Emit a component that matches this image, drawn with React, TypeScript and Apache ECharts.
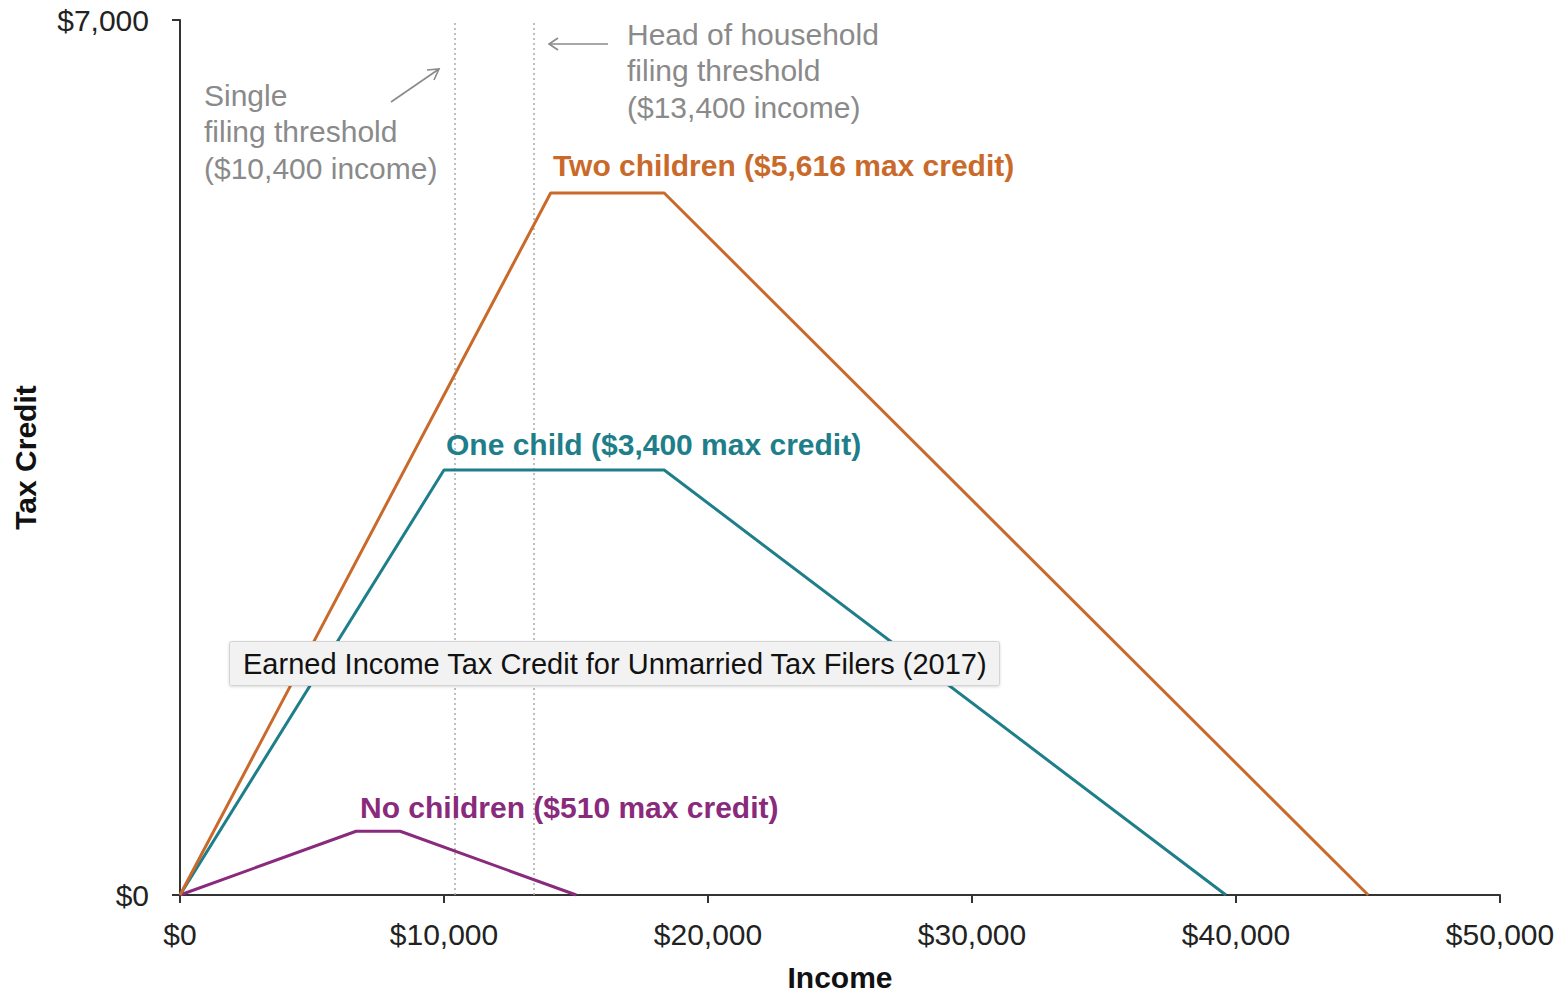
import React, { useEffect, useRef } from "react";
import * as echarts from "echarts";

const twoChildrenIncome = [0, 14040, 18340, 45007];
const twoChildrenCredit = [0, 5616, 5616, 0];
const oneChildIncome = [0, 10000, 18340, 39617];
const oneChildCredit = [0, 3400, 3400, 0];
const noChildrenIncome = [0, 6670, 8340, 15010];
const noChildrenCredit = [0, 510, 510, 0];
const thresholds = [10400, 13400];
const xTicks = [0, 10000, 20000, 30000, 40000, 50000];

const ORANGE = "#C96A2B";
const TEAL = "#1E7E8A";
const PURPLE = "#8A2A7C";
const GRAY = "#8a8a8a";
const FONT = "Liberation Sans, Arial, sans-serif";

const pairs = (xs: number[], ys: number[]) => xs.map((x, i) => [x, ys[i]]);

export default function App() {
  const ref = useRef<HTMLDivElement>(null);
  useEffect(() => {
    const chart = echarts.init(ref.current!, undefined, { renderer: "svg" });
    const lineSeries = (name: string, data: number[][], color: string, extra: any = {}) => ({
      type: "line",
      name,
      data,
      symbol: "none",
      lineStyle: { color, width: 3 },
      itemStyle: { color },
      z: 3,
      ...extra,
    });
    const annoText = (x: number, y: number, text: string, color: string, bold = false) => ({
      type: "text",
      x,
      y,
      style: {
        text,
        fill: color,
        font: `${bold ? "bold " : ""}30px ${FONT}`,
        lineHeight: 36.5,
        textVerticalAlign: "top",
      },
      z: 10,
    });
    chart.setOption({
      animation: false,
      textStyle: { fontFamily: FONT },
      grid: { left: 180, right: 68, top: 20, bottom: 100 },
      title: {
        text: "Earned Income Tax Credit for Unmarried Tax Filers (2017)",
        left: 229,
        top: 641,
        padding: [8, 12, 8, 14],
        backgroundColor: "#f2f2f2",
        borderColor: "#d4d4d4",
        borderWidth: 1,
        borderRadius: 2,
        shadowColor: "rgba(0,0,0,0.15)",
        shadowBlur: 3,
        shadowOffsetY: 1,
        textStyle: { fontSize: 29, fontWeight: "normal", color: "#111", fontFamily: FONT },
      },
      xAxis: {
        type: "value",
        min: 0,
        max: 50000,
        interval: 10000,
        name: "Income",
        nameLocation: "middle",
        nameGap: 67,
        nameTextStyle: { fontSize: 30, fontWeight: "bold", color: "#111", fontFamily: FONT },
        axisLine: { show: true, lineStyle: { color: "#333", width: 2 } },
        axisTick: { show: true, length: 8, lineStyle: { color: "#333", width: 2 } },
        axisLabel: {
          fontSize: 30,
          color: "#222",
          margin: 24,
          formatter: (v: number) => (xTicks.includes(v) ? "$" + v.toLocaleString("en-US") : ""),
        },
        splitLine: { show: false },
      },
      yAxis: {
        type: "value",
        min: 0,
        max: 7000,
        interval: 7000,
        name: "Tax Credit",
        nameLocation: "middle",
        nameGap: 140,
        nameTextStyle: { fontSize: 30, fontWeight: "bold", color: "#111", fontFamily: FONT },
        axisLine: { show: true, lineStyle: { color: "#333", width: 2 } },
        axisTick: { show: true, length: 8, lineStyle: { color: "#333", width: 2 } },
        axisLabel: {
          fontSize: 30,
          color: "#222",
          margin: 31,
          formatter: (v: number) => "$" + v.toLocaleString("en-US"),
        },
        splitLine: { show: false },
      },
      series: [
        lineSeries("No children", pairs(noChildrenIncome, noChildrenCredit), PURPLE, {
          markLine: {
            silent: true,
            symbol: "none",
            label: { show: false },
            lineStyle: { color: "#aaa", type: [2, 3], width: 1.5 },
            data: thresholds.map((t) => ({ xAxis: t })),
            z: 1,
          },
        }),
        lineSeries("One child", pairs(oneChildIncome, oneChildCredit), TEAL),
        lineSeries("Two children", pairs(twoChildrenIncome, twoChildrenCredit), ORANGE),
      ],
      graphic: [
        annoText(204, 77, "Single\nfiling threshold\n($10,400 income)", GRAY),
        annoText(627, 16, "Head of household\nfiling threshold\n($13,400 income)", GRAY),
        annoText(553, 147, "Two children ($5,616 max credit)", ORANGE, true),
        annoText(446, 426, "One child ($3,400 max credit)", TEAL, true),
        annoText(360, 789, "No children ($510 max credit)", PURPLE, true),
        {
          type: "line",
          shape: { x1: 391, y1: 102, x2: 439, y2: 69 },
          style: { stroke: GRAY, lineWidth: 1.6 },
        },
        {
          type: "polyline",
          shape: { points: [[427, 70], [439, 69], [434, 80]] },
          style: { stroke: GRAY, lineWidth: 1.6, fill: "none" },
        },
        {
          type: "line",
          shape: { x1: 608, y1: 44, x2: 549, y2: 44 },
          style: { stroke: GRAY, lineWidth: 1.6 },
        },
        {
          type: "polyline",
          shape: { points: [[558, 38], [549, 44], [558, 50]] },
          style: { stroke: GRAY, lineWidth: 1.6, fill: "none" },
        },
      ],
    });
    return () => chart.dispose();
  }, []);
  return (
    <div
      ref={ref}
      style={{ position: "absolute", left: 0, top: 0, width: 1568, height: 997 }}
    />
  );
}
